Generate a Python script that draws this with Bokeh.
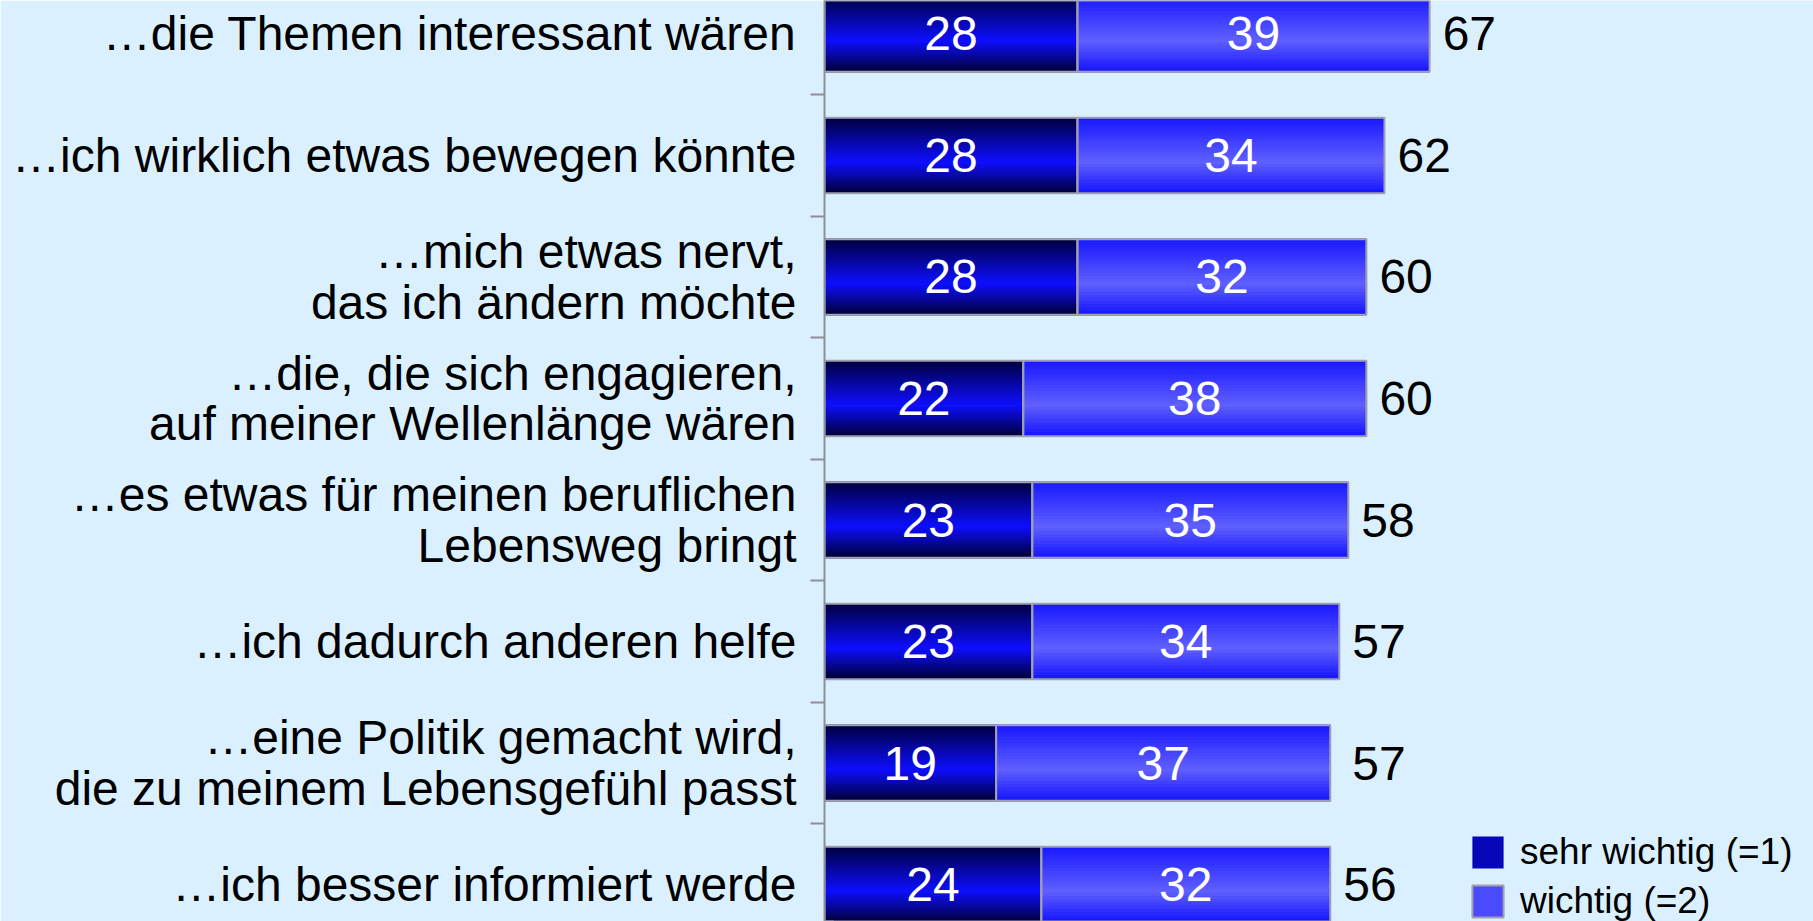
from bokeh.plotting import figure
from bokeh.models import Range1d, FixedTicker, ColumnDataSource, Legend, LegendItem
from bokeh.core.properties import value
from bokeh.embed import file_html
from bokeh.resources import INLINE

# ---------------- data ----------------
categories = [
    "…die Themen interessant wären",
    "…ich wirklich etwas bewegen könnte",
    "…mich etwas nervt,\ndas ich ändern möchte",
    "…die, die sich engagieren,\nauf meiner Wellenlänge wären",
    "…es etwas für meinen beruflichen\nLebensweg bringt",
    "…ich dadurch anderen helfe",
    "…eine Politik gemacht wird,\ndie zu meinem Lebensgefühl passt",
    "…ich besser informiert werde",
]
sehr_wichtig = [28, 28, 28, 22, 23, 23, 19, 24]
wichtig = [39, 34, 32, 38, 35, 34, 37, 32]
totals = [67, 62, 60, 60, 58, 57, 57, 56]
series_names = ["sehr wichtig (=1)", "wichtig (=2)"]

# ---------------- style ----------------
BG = "#DAF0FF"
FONT = "Liberation Sans"
BAR_H = 0.62
N_STRIPS = 24
OUTLINE = "#A0A0B0"
AXIS_GREY = "#8E8E96"

pos = list(range(1, len(categories) + 1))
ends = [s + w for s, w in zip(sehr_wichtig, wichtig)]

p = figure(
    width=1813, height=921,
    x_range=Range1d(0, 109.5), y_range=Range1d(8.3045, 0.7243),
    x_axis_location=None,
    output_backend="svg", toolbar_location=None,
    min_border_left=824, min_border_right=0, min_border_top=0, min_border_bottom=0,
    background_fill_color=BG, border_fill_color=BG, outline_line_color=None,
)
p.xgrid.visible = False
p.ygrid.visible = False


def mix(c0, c1, f):
    return "#%02x%02x%02x" % tuple(int(round(c0[j] + (c1[j] - c0[j]) * f)) for j in range(3))


def gradient_source(lefts, rights, c_edge, c_mid):
    ys, ls, rs, cs = [], [], [], []
    for k in range(N_STRIPS):
        t = (k + 0.5) / N_STRIPS
        f = t / 0.6 if t < 0.6 else (1 - t) / 0.4
        col = mix(c_edge, c_mid, f)
        for i in range(len(pos)):
            ys.append(pos[i] - BAR_H / 2 + t * BAR_H)
            ls.append(lefts[i])
            rs.append(rights[i])
            cs.append(col)
    return ColumnDataSource(dict(y=ys, left=ls, right=rs, color=cs))


dark_src = gradient_source([0] * len(pos), sehr_wichtig, (0, 0, 60), (14, 14, 255))
light_src = gradient_source(sehr_wichtig, ends, (22, 22, 255), (96, 96, 255))
strip_h = BAR_H / N_STRIPS * 1.6
p.hbar(y="y", left="left", right="right", height=strip_h, fill_color="color",
       line_color=None, source=dark_src)
p.hbar(y="y", left="left", right="right", height=strip_h, fill_color="color",
       line_color=None, source=light_src)

# outlines
p.hbar(y=pos, left=0, right=sehr_wichtig, height=BAR_H, fill_color=None,
       line_color=OUTLINE, line_width=2)
p.hbar(y=pos, left=sehr_wichtig, right=ends, height=BAR_H, fill_color=None,
       line_color=OUTLINE, line_width=2)

# value labels
p.text(x=[s / 2 for s in sehr_wichtig], y=pos, text=[str(v) for v in sehr_wichtig],
       text_align="center", text_baseline="middle", text_color="white",
       text_font=value(FONT), text_font_size="48px")
p.text(x=[s + w / 2 for s, w in zip(sehr_wichtig, wichtig)], y=pos,
       text=[str(v) for v in wichtig],
       text_align="center", text_baseline="middle", text_color="white",
       text_font=value(FONT), text_font_size="48px")
p.text(x=totals, y=pos, text=[str(v) for v in totals], x_offset=13,
       text_align="left", text_baseline="middle", text_color="black",
       text_font=value(FONT), text_font_size="48px")

# y axis with labels at centres and tick marks between bars
ax = p.yaxis[0]
ax.ticker = FixedTicker(ticks=pos, minor_ticks=[0.5 + i for i in range(len(pos) + 1)])
ax.major_label_overrides = {pp: c for pp, c in zip(pos, categories)}
ax.major_tick_out = 0
ax.major_tick_in = 0
ax.minor_tick_out = 14
ax.minor_tick_in = 0
ax.minor_tick_line_color = AXIS_GREY
ax.minor_tick_line_width = 2
ax.axis_line_color = AXIS_GREY
ax.axis_line_width = 2
ax.major_label_standoff = 14
ax.major_label_text_font = FONT
ax.major_label_text_font_size = "48px"
ax.major_label_text_color = "black"
ax.major_label_text_line_height = 0.96

# legend (proxy renderers drawn outside the visible range)
r1 = p.hbar(y=[100], left=[0], right=[1], height=BAR_H, fill_color="#0707B8", line_color=None)
r2 = p.hbar(y=[100], left=[0], right=[1], height=BAR_H, fill_color="#4A4AFF",
            line_color=OUTLINE, line_width=2)
legend = Legend(
    items=[LegendItem(label=series_names[0], renderers=[r1]),
           LegendItem(label=series_names[1], renderers=[r2])],
    location=(644, -1), orientation="vertical",
    glyph_width=39, glyph_height=40, label_height=32,
    label_standoff=13, spacing=7, padding=0, margin=0,
    label_text_font=FONT, label_text_font_size="37px", label_text_color="black",
    border_line_color=None, background_fill_alpha=0,
)
p.add_layout(legend)

open("out.html", "w").write(file_html(p, INLINE))
